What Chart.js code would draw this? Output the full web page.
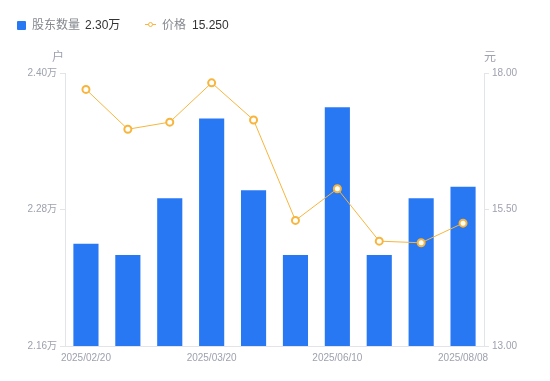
<!DOCTYPE html>
<html><head><meta charset="utf-8">
<script src="https://cdn.jsdelivr.net/npm/chart.js@4/dist/chart.umd.min.js"></script>
<style>
html,body{margin:0;padding:0;background:#fff;}
#wrap{position:relative;width:550px;height:381px;font-family:'Liberation Sans','Noto Sans CJK SC',sans-serif;}
canvas{position:absolute;left:0;top:0;}
.t{position:absolute;white-space:nowrap;font-size:12px;line-height:14px;}
</style></head><body>
<div id="wrap">
<canvas id="c" width="550" height="381"></canvas>
<div id="legend"></div>
</div>
<script>
// ---- data ----
const categories = ['2025/02/20','','','2025/03/20','','','2025/06/10','','','2025/08/08'];
const holders = [2.25, 2.24, 2.29, 2.36, 2.297, 2.24, 2.37, 2.24, 2.29, 2.30];
const prices = [17.70, 16.97, 17.10, 17.82, 17.14, 15.30, 15.88, 14.92, 14.89, 15.25];
const leftTicks = [2.16, 2.28, 2.40];
const rightTicks = [13, 15.5, 18];
const seriesNames = ['股东数量', '价格'];
const units = ['户', '元'];

// ---- style ----
const FONT = "'Liberation Sans','Noto Sans CJK SC',sans-serif";
const GRAY = '#9ea1ae';
const AXIS = '#e3e4e8';
const BLUE = '#2878F4';
const ORANGE = '#F7B53D';

// ---- legend (HTML text) ----
const lg = document.getElementById('legend');
function add(html, style){ const d=document.createElement('div'); d.className='t'; d.innerHTML=html; d.setAttribute('style',style); lg.parentNode.appendChild(d); return d; }
add('', `left:17px;top:21px;width:9px;height:9px;background:${BLUE};border-radius:1px;`);
add(seriesNames[0], `left:32px;top:18px;color:#85888f;`);
add(holders[holders.length-1].toFixed(2)+'万', `left:85px;top:18px;color:#333;`);
add('', `left:145px;top:24px;width:11px;height:1px;background:${ORANGE};`);
add('', `left:147.5px;top:21.5px;width:3px;height:3px;border:1.5px solid ${ORANGE};border-radius:50%;background:#fff;`);
add(seriesNames[1], `left:162px;top:18px;color:#85888f;`);
add(prices[prices.length-1].toFixed(3), `left:192px;top:18px;color:#333;`);
add(units[0], `left:52px;top:50px;color:${GRAY};`);
add(units[1], `left:484px;top:50px;color:${GRAY};`);

// ---- chart ----
const tickFont = {size:10, family:FONT};
new Chart(document.getElementById('c'), {
  data: {
    labels: categories,
    datasets: [
      {type:'line', label:seriesNames[1], data:prices, yAxisID:'y1',
       borderColor:ORANGE, borderWidth:1, tension:0,
       pointRadius:3.5, pointBorderWidth:2, pointBackgroundColor:'#fff', pointBorderColor:ORANGE, order:0},
      {type:'bar', label:seriesNames[0], data:holders, yAxisID:'y',
       backgroundColor:BLUE, borderWidth:0, barPercentage:0.6, categoryPercentage:1, order:1}
    ]
  },
  options: {
    responsive:false, animation:false,
    layout:{padding:{top:73, left:0, right:0, bottom:0}},
    plugins:{legend:{display:false}, tooltip:{enabled:false}},
    scales:{
      x:{type:'category', offset:true,
         grid:{display:false, drawTicks:false}, border:{display:true, color:AXIS},
         ticks:{autoSkip:false, maxRotation:0, padding:6, color:GRAY, font:tickFont},
         afterFit(s){ s.height = 35; }},
      y:{type:'linear', position:'left', min:leftTicks[0], max:leftTicks[leftTicks.length-1],
         afterBuildTicks(s){ s.ticks = leftTicks.map(v=>({value:v})); },
         ticks:{padding:3, color:GRAY, font:tickFont, callback:v=>Number(v).toFixed(2)+'万'},
         grid:{drawOnChartArea:false, drawTicks:true, tickLength:5, color:AXIS},
         border:{display:true, color:AXIS},
         afterFit(s){ s.width = 65; }},
      y1:{type:'linear', position:'right', min:rightTicks[0], max:rightTicks[rightTicks.length-1],
         afterBuildTicks(s){ s.ticks = rightTicks.map(v=>({value:v})); },
         ticks:{padding:3, color:GRAY, font:tickFont, callback:v=>Number(v).toFixed(2)},
         grid:{drawOnChartArea:false, drawTicks:true, tickLength:5, color:AXIS},
         border:{display:true, color:AXIS},
         afterFit(s){ s.width = 66; }}
    }
  }
});
</script>
</body></html>
